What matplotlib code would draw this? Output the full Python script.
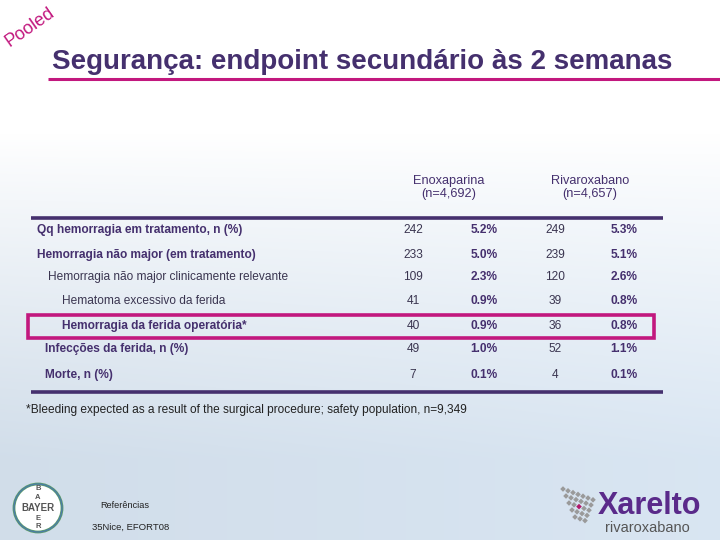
import matplotlib
matplotlib.use("Agg")
import matplotlib.pyplot as plt
import numpy as np
from matplotlib.patches import Rectangle, Circle, RegularPolygon

# ---- data ----
title = "Segurança: endpoint secundário às 2 semanas"
group_names = ["Enoxaparina", "Rivaroxabano"]
group_ns = ["(n=4,692)", "(n=4,657)"]
row_labels = [
    "Qq hemorragia em tratamento, n (%)",
    "Hemorragia não major (em tratamento)",
    "Hemorragia não major clinicamente relevante",
    "Hematoma excessivo da ferida",
    "Hemorragia da ferida operatória*",
    "Infecções da ferida, n (%)",
    "Morte, n (%)",
]
row_indent = [37, 37, 48, 62, 62, 45, 45]
row_bold = [True, True, False, False, True, True, True]
enox_n = [242, 233, 109, 41, 40, 49, 7]
enox_pct = [5.2, 5.0, 2.3, 0.9, 0.9, 1.0, 0.1]
riva_n = [249, 239, 120, 39, 36, 52, 4]
riva_pct = [5.3, 5.1, 2.6, 0.8, 0.8, 1.1, 0.1]
footnote = "*Bleeding expected as a result of the surgical procedure; safety population, n=9,349"
highlight_row = 4

PURPLE = "#45306e"
MAGENTA = "#c2187e"
TXT = "#3a3550"
FONT = "Liberation Sans"

fig = plt.figure(figsize=(7.2, 5.4), dpi=100)
ax = fig.add_axes([0, 0, 1, 1])
ax.set_xlim(0, 720)
ax.set_ylim(540, 0)
ax.axis("off")

# background gradient (smooth)
yy = np.linspace(0, 1, 400)[:, None]
xx = np.linspace(0, 1, 400)[None, :]
top = np.array([1.0, 1.0, 1.0])
bot = np.array([0.85, 0.90, 0.95])
t = np.clip((yy - 0.25) / 0.6, 0, 1) ** 0.9
shade = 1 - 0.035 * (1 - xx) * t
img = (top[None, None, :] * (1 - t[..., None]) + bot[None, None, :] * t[..., None]) * shade[..., None]
ax.imshow(np.clip(img, 0, 1), extent=[0, 720, 540, 0], aspect="auto", zorder=0)

# Pooled
ax.text(30, 27, "Pooled", rotation=35, color=MAGENTA, fontsize=13, family=FONT,
        ha="center", va="center")

# title
ax.text(52, 62, title, fontsize=20, fontweight="bold", color=PURPLE, family=FONT,
        ha="left", va="center")
ax.plot([48, 720], [79, 79], color=MAGENTA, lw=2.2, solid_capstyle="butt")

# headers
col_x = [413, 484, 555, 624]
hdr_x = [449, 590]
for hx, gname, gn in zip(hdr_x, group_names, group_ns):
    ax.text(hx, 181, gname, fontsize=9.2, color=PURPLE, family=FONT, ha="center", va="center")
    ax.text(hx, 194, gn, fontsize=9.2, color=PURPLE, family=FONT, ha="center", va="center")

ax.plot([31, 663], [218, 218], color=PURPLE, lw=2.6, solid_capstyle="butt")
ax.plot([31, 663], [392, 392], color=PURPLE, lw=2.6, solid_capstyle="butt")

FS = 8.6
row_y = [230, 255, 277, 301, 326, 349, 375]
for i, lab in enumerate(row_labels):
    y = row_y[i]
    ax.text(row_indent[i], y, lab, fontsize=FS, color=PURPLE if row_bold[i] else TXT,
            fontweight="bold" if row_bold[i] else "normal", family=FONT, ha="left", va="center")
    ax.text(col_x[0], y, f"{enox_n[i]}", fontsize=FS, color=TXT, family=FONT, ha="center", va="center")
    ax.text(col_x[1], y, f"{enox_pct[i]:.1f}%", fontsize=FS, color=PURPLE, fontweight="bold",
            family=FONT, ha="center", va="center")
    ax.text(col_x[2], y, f"{riva_n[i]}", fontsize=FS, color=TXT, family=FONT, ha="center", va="center")
    ax.text(col_x[3], y, f"{riva_pct[i]:.1f}%", fontsize=FS, color=PURPLE, fontweight="bold",
            family=FONT, ha="center", va="center")

hy = row_y[highlight_row]
ax.add_patch(Rectangle((28, hy - 11.5), 626, 23.5, fill=False, edgecolor=MAGENTA, lw=2.6, zorder=5))

ax.text(26, 410, footnote, fontsize=8.6, color="#222222", family=FONT, ha="left", va="center")

# Bayer logo
ax.add_patch(Circle((38, 508), 24, fill=True, facecolor="white", edgecolor="#5a9a6a", lw=2.0, zorder=3))
ax.add_patch(Circle((38, 508), 24, fill=False, edgecolor="#4a78b0", lw=0.8, zorder=3))
ax.text(38, 508, "BAYER", fontsize=7, fontweight="bold", color="#555555", family=FONT,
        ha="center", va="center", zorder=4)
for ch, dy in zip(["B", "A", "E", "R"], [-19, -10.5, 10.5, 19]):
    ax.text(38, 508 + dy, ch, fontsize=5.5, fontweight="bold", color="#555555", family=FONT,
            ha="center", va="center", zorder=4)

ax.text(100, 505, "Referências", fontsize=6.6, color="#222222", family=FONT, ha="left", va="center")
ax.text(92, 527, "35Nice, EFORT08", fontsize=6.8, color="#222222", family=FONT, ha="left", va="center")

# Xarelto logo
for r in range(5):
    for c in range(7 - r):
        cx = 563 + c * 5 + r * 3
        cy = 489 + r * 7 + c * 1.8
        col = "#b0186a" if (r == 2 and c == 2) else "#9a9a9a"
        ax.add_patch(RegularPolygon((cx, cy), 4, radius=2.8, facecolor=col, edgecolor="none", zorder=3))
ax.text(598, 514, "Xarelto", fontsize=22, fontweight="bold", color="#5a2a8a", family=FONT,
        ha="left", va="baseline", zorder=4)
ax.text(605, 521, "rivaroxabano", fontsize=10.5, color="#555555", family=FONT, ha="left", va="top")

fig.savefig("out.png", dpi=100)
